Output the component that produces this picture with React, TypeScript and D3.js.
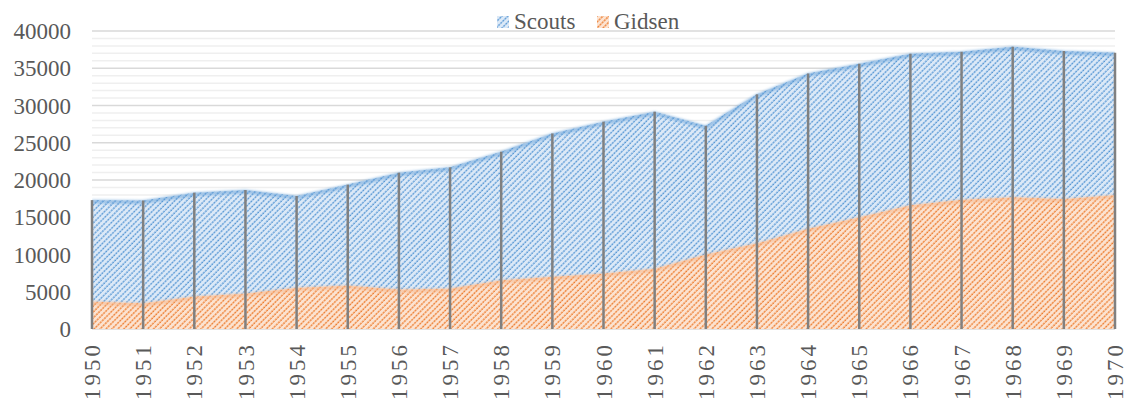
import { useEffect, useRef } from 'react';
import * as d3 from 'd3';

const years = [
  1950, 1951, 1952, 1953, 1954, 1955, 1956, 1957, 1958, 1959, 1960,
  1961, 1962, 1963, 1964, 1965, 1966, 1967, 1968, 1969, 1970,
];
const gidsen = [
  3700, 3450, 4350, 4750, 5550, 5850, 5300, 5450, 6550, 7000, 7450,
  8100, 10000, 11500, 13450, 15000, 16600, 17350, 17700, 17450, 18000,
];
// total = scouts + gidsen (top of the stack)
const totals = [
  17300, 17250, 18300, 18650, 17850, 19380, 20980, 21700, 23800, 26250, 27830,
  29170, 27270, 31500, 34300, 35600, 36950, 37200, 37880, 37300, 37080,
];
const scouts = totals.map((t, i) => t - gidsen[i]);
const seriesNames = ['Scouts', 'Gidsen'];
const yTicks = [0, 5000, 10000, 15000, 20000, 25000, 30000, 35000, 40000];

const W = 1129;
const H = 403;
const FONT = '"Liberation Serif", "Times New Roman", serif';

export default function App() {
  const svgRef = useRef<SVGSVGElement>(null);

  useEffect(() => {
    if (!svgRef.current) return;
    const svg = d3.select(svgRef.current);
    svg.selectAll('*').remove();
    svg.attr('width', W).attr('height', H);

    const x = d3.scalePoint<number>().domain(years).range([92, 1115]);
    const y = d3.scaleLinear().domain([0, 40000]).range([329, 31]);

    const defs = svg.append('defs');
    const makeHatch = (id: string, bg: string, mid: string, fg: string) => {
      const p = defs
        .append('pattern')
        .attr('id', id)
        .attr('patternUnits', 'userSpaceOnUse')
        .attr('width', 4.2)
        .attr('height', 6)
        .attr('patternTransform', 'rotate(45)');
      p.append('rect').attr('width', 4.2).attr('height', 6).attr('fill', bg);
      p.append('line')
        .attr('x1', 1).attr('y1', 0).attr('x2', 1).attr('y2', 6)
        .attr('stroke', mid)
        .attr('stroke-width', 1.4);
      p.append('line')
        .attr('x1', 1).attr('y1', 0).attr('x2', 1).attr('y2', 6)
        .attr('stroke', fg)
        .attr('stroke-width', 1.4)
        .attr('stroke-dasharray', '1.5 1.5');
    };
    makeHatch('hatch-scouts', '#dce9f7', '#b5d1ee', '#5496d3');
    makeHatch('hatch-gidsen', '#fce3d1', '#f7c29c', '#ed7a2c');

    defs.append('filter').attr('id', 'soft')
      .append('feGaussianBlur').attr('stdDeviation', 1.3);
    defs.append('clipPath').attr('id', 'plotclip')
      .append('rect').attr('x', 92).attr('y', 0).attr('width', 1115 - 92).attr('height', 329);

    // gridlines
    const g = svg.append('g');
    const minor = d3.range(1000, 40001, 1000).filter((v) => v % 5000 !== 0);
    g.selectAll('.minor')
      .data(minor)
      .enter()
      .append('line')
      .attr('x1', 92).attr('x2', 1115)
      .attr('y1', (d) => y(d)).attr('y2', (d) => y(d))
      .attr('stroke', '#efefef')
      .attr('stroke-width', 1.5);
    g.selectAll('.major')
      .data(yTicks)
      .enter()
      .append('line')
      .attr('x1', 92).attr('x2', 1115)
      .attr('y1', (d) => y(d)).attr('y2', (d) => y(d))
      .attr('stroke', '#d9d9d9')
      .attr('stroke-width', 1.5);

    const stackData = years.map((yr, i) => ({ year: yr, Scouts: scouts[i], Gidsen: gidsen[i] }));
    const stack = d3.stack<any>().keys(['Gidsen', 'Scouts'])(stackData);

    const area = d3.area<any>()
      .x((d) => x(d.data.year)!)
      .y0((d) => y(d[0]))
      .y1((d) => y(d[1]));
    const topLine = d3.line<any>()
      .x((d) => x(d.data.year)!)
      .y((d) => y(d[1]));

    const fills: Record<string, string> = { Gidsen: 'url(#hatch-gidsen)', Scouts: 'url(#hatch-scouts)' };
    const edge: Record<string, string> = { Gidsen: '#f4b183', Scouts: '#5b9bd5' };

    const areas = svg.append('g');
    stack.forEach((s) => {
      areas.append('path').attr('d', area(s)!).attr('fill', fills[s.key]);
    });
    const edges = svg.append('g').attr('clip-path', 'url(#plotclip)');
    stack.forEach((s) => {
      edges.append('path')
        .attr('d', topLine(s)!)
        .attr('fill', 'none')
        .attr('stroke', edge[s.key])
        .attr('stroke-opacity', 0.5)
        .attr('stroke-width', 4)
        .attr('filter', 'url(#soft)')
        .attr('transform', 'translate(0,1.5)');
    });

    // drop lines
    svg.append('g').selectAll('line')
      .data(years)
      .enter()
      .append('line')
      .attr('x1', (d) => x(d)!).attr('x2', (d) => x(d)!)
      .attr('y1', y(0))
      .attr('y2', (_, i) => y(totals[i]))
      .attr('stroke', '#808080')
      .attr('stroke-width', 2.5);

    // y labels
    svg.append('g').selectAll('text')
      .data(yTicks)
      .enter()
      .append('text')
      .attr('x', 71)
      .attr('y', (d) => y(d))
      .attr('dy', '0.35em')
      .attr('text-anchor', 'end')
      .attr('font-family', FONT)
      .attr('font-size', '23px')
      .attr('fill', '#595959')
      .text((d) => d);

    // x labels (rotated)
    svg.append('g').selectAll('text')
      .data(years)
      .enter()
      .append('text')
      .attr('transform', (d) => `translate(${x(d)},342) rotate(-90)`)
      .attr('dy', '0.35em')
      .attr('text-anchor', 'end')
      .attr('letter-spacing', '3px')
      .attr('font-family', FONT)
      .attr('font-size', '23px')
      .attr('fill', '#595959')
      .text((d) => d);

    // legend
    const legendX = [497, 597];
    const legendFill = ['url(#hatch-scouts)', 'url(#hatch-gidsen)'];
    const leg = svg.append('g');
    seriesNames.forEach((name, i) => {
      leg.append('rect')
        .attr('x', legendX[i]).attr('y', 16)
        .attr('width', 12).attr('height', 12)
        .attr('fill', legendFill[i]);
      leg.append('text')
        .attr('x', legendX[i] + 17)
        .attr('y', 29)
        .attr('font-family', FONT)
        .attr('font-size', '23px')
        .attr('fill', '#595959')
        .text(name);
    });
  }, []);

  return (
    <div style={{ position: 'absolute', left: 0, top: 0, background: '#fff' }}>
      <svg ref={svgRef} role="img" aria-label="Scouts en Gidsen 1950-1970" />
    </div>
  );
}
